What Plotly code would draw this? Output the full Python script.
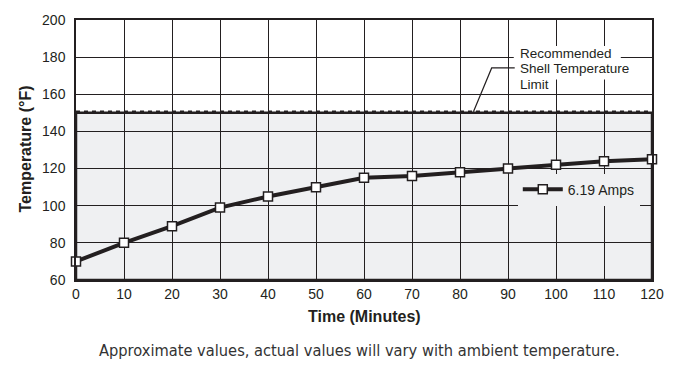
import plotly.graph_objects as go

# ---- data ----
time_min = [0, 10, 20, 30, 40, 50, 60, 70, 80, 90, 100, 110, 120]
temp_f = [70, 80, 89, 99, 105, 110, 115, 116, 118, 120, 122, 124, 125]
series_name = "6.19 Amps"
limit_temp = 150
x_ticks = list(range(0, 121, 10))
y_ticks = list(range(60, 201, 20))
annot_lines = ["Recommended", "Shell Temperature", "Limit"]
x_title = "Time (Minutes)"
y_title = "Temperature (°F)"
caption = "Approximate values, actual values will vary with ambient temperature."

INK = "#231f20"
SHADE = "#eff0f2"
FONT = "Liberation Sans, Arial, Helvetica, sans-serif"

fig = go.Figure()
fig.add_trace(go.Scatter(
    x=time_min, y=temp_f, name=series_name, mode="lines+markers",
    line=dict(color=INK, width=4),
    marker=dict(symbol="square", size=9, color="white",
                line=dict(color=INK, width=1.5)),
    cliponaxis=False,
))

# shaded safe region below limit
fig.add_shape(type="rect", xref="x", yref="y", x0=min(x_ticks), x1=max(x_ticks),
              y0=min(y_ticks), y1=limit_temp, fillcolor=SHADE, line=dict(width=0),
              layer="below")
fig.add_shape(type="rect", xref="x", yref="y", x0=min(x_ticks), x1=max(x_ticks),
              y0=min(y_ticks), y1=limit_temp, fillcolor="rgba(0,0,0,0)",
              line=dict(color=INK, width=2.5), layer="between")
# dashed limit line
fig.add_shape(type="line", xref="x", yref="y", x0=min(x_ticks), x1=max(x_ticks),
              y0=limit_temp + 0.7, y1=limit_temp + 0.7,
              line=dict(color=INK, width=2, dash="4px,4px"), layer="between")
# white knock-out behind the annotation text
fig.add_shape(type="path", xref="x", yref="y",
              path="M 91.2,186 H 113.5 V 177.6 H 117.9 V 168.0 H 99.4 V 162.8 H 91.2 Z",
              fillcolor="white", line=dict(width=0), layer="between")
# leader line
fig.add_shape(type="path", xref="x", yref="y",
              path=f"M 91.4,174.2 L 86.6,174.2 L 82.8,{limit_temp + 0.6}",
              line=dict(color=INK, width=1.2), layer="between")

ys = [181.9, 173.7, 165.5]
for txt, yv in zip(annot_lines, ys):
    fig.add_annotation(x=92.3, y=yv, xref="x", yref="y", text=txt, showarrow=False,
                       xanchor="left", yanchor="middle", borderpad=0,
                       font=dict(family=FONT, size=13.5, color=INK))

fig.add_annotation(x=0.5, y=-0.14, xref="paper", yref="paper", text=f"<b>{x_title}</b>",
                   showarrow=False, xanchor="center", yanchor="middle",
                   font=dict(family=FONT, size=16, color=INK))
fig.add_annotation(x=-0.0885, y=0.502, xref="paper", yref="paper", text=f"<b>{y_title}</b>",
                   showarrow=False, xanchor="center", yanchor="middle", textangle=-90,
                   font=dict(family=FONT, size=16, color=INK))
fig.add_annotation(x=0.492, y=-0.273, xref="paper", yref="paper", text=caption,
                   showarrow=False, xanchor="center", yanchor="middle",
                   font=dict(family="Liberation Sans Narrow, DejaVu Sans Condensed, Arial Narrow, sans-serif",
                             size=16.3, color="#333333"))

axis_common = dict(showgrid=True, gridcolor=INK, gridwidth=1.3, showline=True,
                   linecolor=INK, linewidth=1.5, mirror=True, zeroline=False,
                   ticks="", tickfont=dict(family=FONT, size=14, color=INK))
fig.update_xaxes(range=[min(x_ticks), max(x_ticks)], tickvals=x_ticks, **axis_common)
fig.update_yaxes(range=[min(y_ticks), max(y_ticks)], tickvals=y_ticks,
                 ticklabelstandoff=6, **axis_common)

fig.update_layout(
    width=677, height=369,
    margin=dict(l=76, r=25, t=16, b=89),
    paper_bgcolor="white", plot_bgcolor="white",
    showlegend=True,
    legend=dict(x=0.767, y=0.409, xanchor="left", yanchor="top", bgcolor=SHADE,
                borderwidth=0, font=dict(family=FONT, size=14, color=INK),
                itemwidth=40),
)

fig.write_html("out.html", config={"displayModeBar": False},
               post_script="document.body.style.margin='0';")
